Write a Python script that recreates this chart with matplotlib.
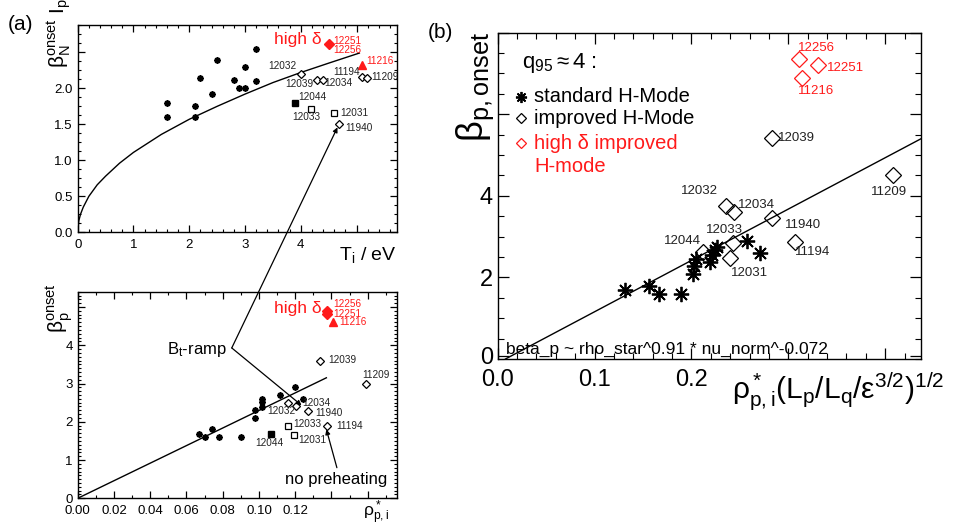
import matplotlib
matplotlib.use('Agg')
import matplotlib.pyplot as plt
from matplotlib.ticker import MultipleLocator, FixedLocator, FixedFormatter
from matplotlib.patches import ConnectionPatch

plt.rcParams['font.family'] = ['Liberation Sans', 'DejaVu Sans']
plt.rcParams['mathtext.fontset'] = 'custom'
plt.rcParams['mathtext.rm'] = 'Liberation Sans'
plt.rcParams['mathtext.it'] = 'Liberation Sans:italic'
plt.rcParams['mathtext.default'] = 'regular'

RED = '#ff1a1a'

# ---------------- data: panel (a) top  (beta_N^onset I_p vs T_i) ----------------
a1_std_x = [1.6, 1.6, 2.1, 2.1, 2.2, 2.4, 2.5, 2.8, 2.9, 3.0, 3.0, 3.2, 3.2]
a1_std_y = [1.80, 1.60, 1.76, 1.60, 2.15, 1.92, 2.40, 2.12, 2.00, 2.00, 2.30, 2.55, 2.10]
a1_imp_x = [4.00, 4.29, 4.39, 5.09, 5.19, 4.69]
a1_imp_y = [2.20, 2.12, 2.11, 2.16, 2.15, 1.50]
a1_sqo_x = [4.19, 4.59]          # 12033, 12031
a1_sqo_y = [1.71, 1.66]
a1_sqf_x = [3.89]                # 12044
a1_sqf_y = [1.80]
a1_hd_x = [4.50]                 # 12251 / 12256
a1_hd_y = [2.62]
a1_tri_x = [5.10]                # 11216
a1_tri_y = [2.32]
a1_fit_x = [0, 0.02, 0.05, 0.1, 0.2, 0.35, 0.5, 0.75, 1.0, 1.5, 2.0, 2.5, 3.0, 3.5, 4.0, 4.5, 5.05]
a1_fit_y = [0, 0.16, 0.25, 0.35, 0.50, 0.66, 0.78, 0.96, 1.11, 1.36, 1.57, 1.75, 1.92, 2.08, 2.22, 2.35, 2.49]

# ---------------- data: panel (a) bottom (beta_p^onset vs rho*) ----------------
a2_std_x = [0.067, 0.070, 0.074, 0.078, 0.090, 0.0976, 0.0976, 0.1018, 0.1018, 0.1018, 0.1114, 0.1197, 0.1243]
a2_std_y = [1.69, 1.60, 1.80, 1.60, 1.60, 2.11, 2.30, 2.39, 2.52, 2.60, 2.69, 2.91, 2.60]
a2_imp_x = [0.1160, 0.1203, 0.1273, 0.1337, 0.1590, 0.1376]
a2_imp_y = [2.50, 2.40, 2.28, 3.60, 2.99, 1.90]
a2_sqo_x = [0.1158, 0.1192]
a2_sqo_y = [1.89, 1.65]
a2_sqf_x = [0.1068]
a2_sqf_y = [1.69]
a2_hd_x = [0.1376, 0.1376]
a2_hd_y = [4.90, 4.81]
a2_tri_x = [0.1409]
a2_tri_y = [4.60]
a2_fit_x = [0.0, 0.1372]
a2_fit_y = [0.0, 3.15]

# ---------------- data: panel (b) ----------------
b_std_x = [0.131, 0.156, 0.167, 0.189, 0.2017, 0.203, 0.205, 0.219, 0.221, 0.224, 0.226, 0.257, 0.271]
b_std_y = [1.70, 1.80, 1.60, 1.60, 2.08, 2.27, 2.45, 2.39, 2.55, 2.68, 2.75, 2.90, 2.60]
b_imp_lab = ['12039', '11209', '12032', '12034', '11940', '11194', '12033', '12031', '12044']
b_imp_x = [0.283, 0.408, 0.2354, 0.244, 0.2835, 0.307, 0.243, 0.2395, 0.212]
b_imp_y = [5.41, 4.51, 3.75, 3.60, 3.45, 2.87, 2.85, 2.47, 2.62]
b_hd_lab = ['12256', '12251', '11216']
b_hd_x = [0.3106, 0.331, 0.314]
b_hd_y = [7.35, 7.21, 6.90]
b_fit_x = [0.008, 0.437]
b_fit_y = [0.0, 5.40]

fig = plt.figure(figsize=(9.55, 5.3), dpi=100)
W, H = 955.0, 530.0

def fax(l, t, r, b):
    return fig.add_axes([l / W, 1 - b / H, (r - l) / W, (b - t) / H])

ax1 = fax(77.7, 25, 396.7, 232.3)
ax2 = fax(77.7, 291.7, 396.7, 498.3)
ax3 = fax(497.7, 32.7, 921, 359)

def style(ax, fs, maj, mnr, xpad):
    ax.tick_params(which='both', direction='in', top=True, right=True, labelsize=fs)
    ax.tick_params(which='major', length=maj, width=0.9)
    ax.tick_params(which='minor', length=mnr, width=0.8)
    ax.tick_params(axis='x', which='major', pad=xpad)
    for s in ax.spines.values():
        s.set_linewidth(1.0)

STAR_A = dict(ls='none', marker=(8, 2, 0), ms=4.5, mew=1.3, color='k')

# ---------- panel a top ----------
ax1.set_xlim(0, 5.72)
ax1.set_ylim(0, 2.88)
ax1.xaxis.set_major_locator(FixedLocator([0, 1, 2, 3, 4, 5]))
ax1.xaxis.set_major_formatter(FixedFormatter(['0', '1', '2', '3', '4', '']))
ax1.xaxis.set_minor_locator(MultipleLocator(0.2))
ax1.yaxis.set_major_locator(FixedLocator([0, 0.5, 1.0, 1.5, 2.0, 2.5]))
ax1.yaxis.set_major_formatter(FixedFormatter(['0.0', '0.5', '1.0', '1.5', '2.0', '']))
ax1.yaxis.set_minor_locator(MultipleLocator(0.125))
style(ax1, 9.5, 5, 2.5, 4.5)

ax1.plot(a1_fit_x, a1_fit_y, color='k', lw=1.0)
ax1.plot(a1_std_x, a1_std_y, **STAR_A)
ax1.plot(a1_imp_x, a1_imp_y, ls='none', marker='D', ms=4.2, mfc='white', mec='k', mew=0.9)
ax1.plot(a1_sqo_x, a1_sqo_y, ls='none', marker='s', ms=4.5, mfc='white', mec='k', mew=0.9)
ax1.plot(a1_sqf_x, a1_sqf_y, ls='none', marker='s', ms=5, mfc='k', mec='k')
ax1.plot(a1_hd_x, a1_hd_y, ls='none', marker='D', ms=5, mfc=RED, mec=RED)
ax1.plot(a1_tri_x, a1_tri_y, ls='none', marker='^', ms=6, mfc=RED, mec=RED)

lf = 7.2
ax1.text(4.38, 2.68, 'high δ', color=RED, fontsize=12.5, ha='right', va='center')
ax1.text(4.575, 2.66, '12251', color=RED, fontsize=lf, ha='left', va='center')
ax1.text(4.575, 2.53, '12256', color=RED, fontsize=lf, ha='left', va='center')
ax1.text(5.17, 2.38, '11216', color=RED, fontsize=lf, ha='left', va='center')
ax1.text(3.93, 2.31, '12032', fontsize=lf, ha='right', va='center', color='#222222')
ax1.text(4.22, 2.06, '12039', fontsize=lf, ha='right', va='center', color='#222222')
ax1.text(4.43, 2.07, '12034', fontsize=lf, ha='left', va='center', color='#222222')
ax1.text(5.06, 2.23, '11194', fontsize=lf, ha='right', va='center', color='#222222')
ax1.text(5.27, 2.16, '11209', fontsize=lf, ha='left', va='center', color='#222222', clip_on=True)
ax1.text(3.95, 1.88, '12044', fontsize=lf, ha='left', va='center', color='#222222')
ax1.text(4.10, 1.60, '12033', fontsize=lf, ha='center', va='center', color='#222222')
ax1.text(4.70, 1.66, '12031', fontsize=lf, ha='left', va='center', color='#222222')
ax1.text(4.79, 1.45, '11940', fontsize=lf, ha='left', va='center', color='#222222')

fig.text(60 / W, 1 - 68 / H, r'$\beta_N^{onset}\ I_p$', rotation=90, fontsize=15,
         ha='center', va='bottom')
fig.text(397 / W, 1 - 260 / H, r'$T_i$ / eV', fontsize=14, ha='right', va='baseline')
fig.text(20 / W, 1 - 25 / H, '(a)', fontsize=15, ha='center', va='center')

# ---------- panel a bottom ----------
ax2.set_xlim(0, 0.176)
ax2.set_ylim(0, 5.4)
ax2.xaxis.set_major_locator(FixedLocator([0, 0.02, 0.04, 0.06, 0.08, 0.10, 0.12, 0.14, 0.16]))
ax2.xaxis.set_major_formatter(FixedFormatter(['0.00', '0.02', '0.04', '0.06', '0.08', '0.10', '0.12', '', '']))
ax2.xaxis.set_minor_locator(MultipleLocator(0.01))
ax2.yaxis.set_major_locator(FixedLocator([0, 1, 2, 3, 4, 5]))
ax2.yaxis.set_major_formatter(FixedFormatter(['0', '1', '2', '3', '4', '']))
ax2.yaxis.set_minor_locator(MultipleLocator(0.1))
style(ax2, 9.5, 5, 2.5, 5)

ax2.plot(a2_fit_x, a2_fit_y, color='k', lw=1.0)
ax2.plot(a2_std_x, a2_std_y, **STAR_A)
ax2.plot(a2_imp_x, a2_imp_y, ls='none', marker='D', ms=4.2, mfc='white', mec='k', mew=0.9)
ax2.plot(a2_sqo_x, a2_sqo_y, ls='none', marker='s', ms=4.5, mfc='white', mec='k', mew=0.9)
ax2.plot(a2_sqf_x, a2_sqf_y, ls='none', marker='s', ms=5, mfc='k', mec='k')
ax2.plot(a2_hd_x, a2_hd_y, ls='none', marker='D', ms=5, mfc=RED, mec=RED)
ax2.plot(a2_tri_x, a2_tri_y, ls='none', marker='^', ms=6, mfc=RED, mec=RED)

ax2.text(0.1348, 4.95, 'high δ', color=RED, fontsize=12.5, ha='right', va='center')
ax2.text(0.141, 5.08, '12256', color=RED, fontsize=lf, ha='left', va='center')
ax2.text(0.141, 4.83, '12251', color=RED, fontsize=lf, ha='left', va='center')
ax2.text(0.1445, 4.60, '11216', color=RED, fontsize=lf, ha='left', va='center')
ax2.text(0.138, 3.61, '12039', fontsize=lf, ha='left', va='center', color='#222222')
ax2.text(0.1644, 3.22, '11209', fontsize=lf, ha='center', va='center', color='#222222')
ax2.text(0.1044, 2.29, '12032', fontsize=lf, ha='left', va='center', color='#222222')
ax2.text(0.1241, 2.48, '12034', fontsize=lf, ha='left', va='center', color='#222222')
ax2.text(0.131, 2.24, '11940', fontsize=lf, ha='left', va='center', color='#222222')
ax2.text(0.1188, 1.94, '12033', fontsize=lf, ha='left', va='center', color='#222222')
ax2.text(0.1425, 1.89, '11194', fontsize=lf, ha='left', va='center', color='#222222')
ax2.text(0.1056, 1.45, '12044', fontsize=lf, ha='center', va='center', color='#222222')
ax2.text(0.1216, 1.52, '12031', fontsize=lf, ha='left', va='center', color='#222222')

ax2.text(0.0824, 3.90, r'$B_t$-ramp', fontsize=12, ha='right', va='center')
ax2.text(0.1428, 0.48, 'no preheating', fontsize=12, ha='center', va='center')
ax2.annotate('', xy=(0.1372, 1.80), xytext=(0.1430, 0.80),
             arrowprops=dict(arrowstyle='-|>', color='k', lw=0.9, mutation_scale=7,
                             shrinkA=0, shrinkB=0))
ax2.annotate('', xy=(0.1235, 2.43), xytext=(0.085, 3.93),
             arrowprops=dict(arrowstyle='-|>', color='k', lw=0.9, mutation_scale=7,
                             shrinkA=0, shrinkB=0))
con = ConnectionPatch(xyA=(0.085, 3.93), coordsA=ax2.transData,
                      xyB=(4.69, 1.51), coordsB=ax1.transData,
                      arrowstyle='-|>', color='k', lw=0.9, mutation_scale=7,
                      shrinkA=0, shrinkB=3)
fig.add_artist(con)

fig.text(60 / W, 1 - 333 / H, r'$\beta_p^{onset}$', rotation=90, fontsize=15,
         ha='center', va='bottom')
fig.text(389 / W, 1 - 513 / H, r'$\rho^*_{p,i}$', fontsize=12.5, ha='right', va='center')

# ---------- panel b ----------
ax3.set_xlim(0, 0.437)
ax3.set_ylim(0, 8)
ax3.xaxis.set_major_locator(FixedLocator([0, 0.1, 0.2, 0.3, 0.4]))
ax3.xaxis.set_major_formatter(FixedFormatter(['0.0', '0.1', '0.2', '', '']))
ax3.xaxis.set_minor_locator(MultipleLocator(0.02))
ax3.yaxis.set_major_locator(FixedLocator([0.08, 2, 4, 6, 8]))
ax3.yaxis.set_major_formatter(FixedFormatter(['0', '2', '4', '', '']))
ax3.yaxis.set_minor_locator(FixedLocator([0.5 * k for k in range(1, 16) if k % 4 != 0] + [0.0]))
style(ax3, 17, 8, 4, 7)
# the y-axis major tick at 0 is drawn as a minor tick (label nudged slightly upward, as in the reference)
ax3.tick_params(axis='y', which='major', length=8)

ax3.plot(b_fit_x, b_fit_y, color='k', lw=1.0)
ax3.plot(b_std_x, b_std_y, ls='none', marker=(8, 2, 0), ms=11, mew=1.3, color='k')
ax3.plot(b_imp_x, b_imp_y, ls='none', marker='D', ms=8, mfc='none', mec='k', mew=0.9)
ax3.plot(b_hd_x, b_hd_y, ls='none', marker='D', ms=8, mfc='none', mec=RED, mew=0.9)

bf = 9.5
ax3.text(0.329, 7.63, '12256', color=RED, fontsize=bf, ha='center', va='center')
ax3.text(0.3396, 7.14, '12251', color=RED, fontsize=bf, ha='left', va='center')
ax3.text(0.329, 6.58, '11216', color=RED, fontsize=bf, ha='center', va='center')
ax3.text(0.289, 5.41, '12039', fontsize=bf, ha='left', va='center', color='#222222')
ax3.text(0.4044, 4.10, '11209', fontsize=bf, ha='center', va='center', color='#222222')
ax3.text(0.2086, 4.11, '12032', fontsize=bf, ha='center', va='center', color='#222222')
ax3.text(0.248, 3.78, '12034', fontsize=bf, ha='left', va='center', color='#222222')
ax3.text(0.2962, 3.29, '11940', fontsize=bf, ha='left', va='center', color='#222222')
ax3.text(0.307, 2.63, '11194', fontsize=bf, ha='left', va='center', color='#222222')
ax3.text(0.234, 3.17, '12033', fontsize=bf, ha='center', va='center', color='#222222')
ax3.text(0.241, 2.12, '12031', fontsize=bf, ha='left', va='center', color='#222222')
ax3.text(0.191, 2.90, '12044', fontsize=bf, ha='center', va='center', color='#222222')

ax3.text(0.0196, 0.03, 'beta_p ~ rho_star^0.91 * nu_norm^-0.072', transform=ax3.transAxes,
         fontsize=12.5, ha='left', va='center')

# legend (drawn as text + markers in axes fraction)
ax3.text(0.057, 0.908, r'$q_{95}\approx 4$ :', transform=ax3.transAxes, fontsize=16,
         ha='left', va='center')
ax3.plot([0.055], [0.804], transform=ax3.transAxes, marker=(8, 2, 0), ms=8, mew=1.3,
         color='k', ls='none', clip_on=False)
ax3.plot([0.055], [0.738], transform=ax3.transAxes, marker='D', ms=5.5, mfc='none',
         mec='k', mew=0.9, ls='none', clip_on=False)
ax3.plot([0.055], [0.661], transform=ax3.transAxes, marker='D', ms=5.5, mfc='none',
         mec=RED, mew=0.9, ls='none', clip_on=False)
ax3.text(0.0865, 0.804, 'standard H-Mode', transform=ax3.transAxes, fontsize=14.5,
         ha='left', va='center')
ax3.text(0.0865, 0.738, 'improved H-Mode', transform=ax3.transAxes, fontsize=14.5,
         ha='left', va='center')
ax3.text(0.0865, 0.661, 'high δ improved', transform=ax3.transAxes, fontsize=14.5,
         ha='left', va='center', color=RED)
ax3.text(0.0865, 0.589, 'H-mode', transform=ax3.transAxes, fontsize=14.5,
         ha='left', va='center', color=RED)

fig.text(475 / W, 1 - 32 / H, r'$\beta_{p,onset}$', rotation=90, fontsize=26,
         ha='center', va='top')
fig.text(944 / W, 1 - 392 / H, r'$\rho^*_{p,i}(L_p/L_q/\varepsilon^{3/2})^{1/2}$',
         fontsize=21.5, ha='right', va='center')
fig.text(440 / W, 1 - 33 / H, '(b)', fontsize=15, ha='center', va='center')

fig.savefig('out.png', dpi=100)
